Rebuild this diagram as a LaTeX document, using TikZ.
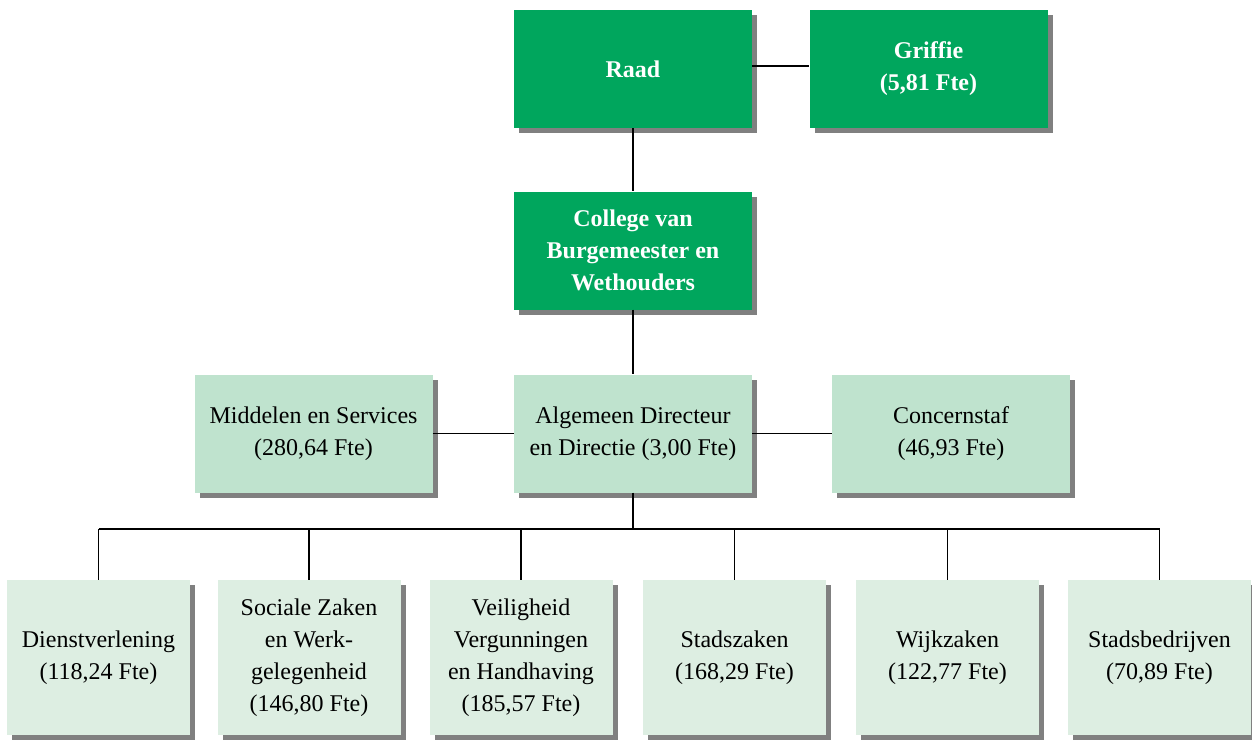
\documentclass[tikz,border=0pt]{standalone}
\usepackage{fontspec}
\setmainfont{Liberation Serif}
\usetikzlibrary{shadows}
\definecolor{dkgreen}{RGB}{0,166,93}
\definecolor{midgreen}{RGB}{191,227,206}
\definecolor{ltgreen}{RGB}{221,238,226}
\definecolor{shadowgray}{RGB}{128,128,128}
\begin{document}
\begin{tikzpicture}[x=1pt,y=-1pt,
 box/.style={rectangle, minimum width=238pt, minimum height=118pt, inner sep=0pt, align=center,
   font=\fontsize{24}{32}\selectfont,
   drop shadow={shadow xshift=5pt, shadow yshift=-5pt, fill=shadowgray, opacity=1}},
 topbox/.style={box, fill=dkgreen, text=white, font=\fontsize{24}{32}\selectfont\bfseries},
 midbox/.style={box, fill=midgreen},
 lowbox/.style={box, fill=ltgreen, minimum width=183pt, minimum height=155pt},
 conn/.style={draw=black, line width=1.3pt}]
\useasboundingbox (0,0) rectangle (1252,739);

\node[topbox] (raad) at (633,69) {Raad};
\node[topbox] (griffie) at (928.5,69) {Griffie\\(5,81 Fte)};
\node[topbox] (college) at (633,250.5) {College van\\Burgemeester en\\Wethouders};
\node[midbox] (middelen) at (313.5,433.5) {Middelen en Services\\(280,64 Fte)};
\node[midbox] (algemeen) at (633,433.5) {Algemeen Directeur\\en Directie (3,00 Fte)};
\node[midbox] (concern) at (951,433.5) {Concernstaf\\(46,93 Fte)};

\node[lowbox] (b1) at (98.5,657.5) {Dienstverlening\\(118,24 Fte)};
\node[lowbox] (b2) at (309,657.5) {Sociale Zaken\\en Werk-\\gelegenheid\\(146,80 Fte)};
\node[lowbox] (b3) at (521,657.5) {Veiligheid\\Vergunningen\\en Handhaving\\(185,57 Fte)};
\node[lowbox] (b4) at (734.5,657.5) {Stadszaken\\(168,29 Fte)};
\node[lowbox] (b5) at (947.5,657.5) {Wijkzaken\\(122,77 Fte)};
\node[lowbox] (b6) at (1159.5,657.5) {Stadsbedrijven\\(70,89 Fte)};

\coordinate (rg) at (0,66);
\coordinate (bus) at (633,529);

\draw[conn] (raad.east |- rg) -- (griffie.west |- rg);
\draw[conn] (raad.south) -- (college.north);
\draw[conn] (college.south) -- (algemeen.north);
\draw[conn] (middelen.east) -- (algemeen.west);
\draw[conn] (algemeen.east) -- (concern.west);
\draw[conn] (algemeen.south) -- (bus);
\draw[conn] (b1.north |- bus) -- (b6.north |- bus);
\foreach \b in {b1,b2,b3,b4,b5,b6} {
  \draw[conn] (\b.north) -- (\b.north |- bus);
}
\end{tikzpicture}
\end{document}
